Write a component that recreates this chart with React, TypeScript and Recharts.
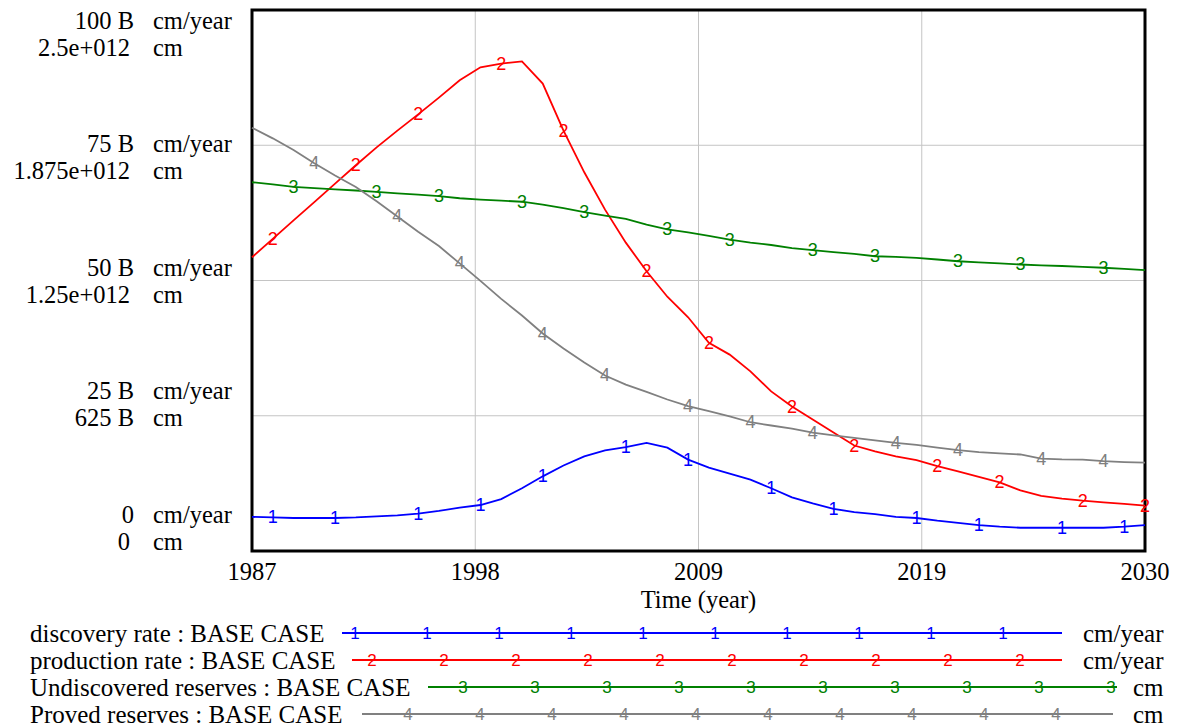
import { LineChart, Line, XAxis, YAxis, CartesianGrid, ReferenceArea, Label } from "recharts"

// time axis (years)
const years = [
  1987, 1988, 1989, 1990, 1991, 1992, 1993, 1994, 1995, 1996,
  1997, 1998, 1999, 2000, 2001, 2002, 2003, 2004, 2005, 2006,
  2007, 2008, 2009, 2010, 2011, 2012, 2013, 2014, 2015, 2016,
  2017, 2018, 2019, 2020, 2021, 2022, 2023, 2024, 2025, 2026,
  2027, 2028, 2029, 2030,
]

// rates in billions of cm/year
const discoveryRate = [
  6.3, 6.2, 6.1, 6.1, 6.1, 6.2, 6.4, 6.6, 6.9, 7.4,
  8.0, 8.5, 9.6, 11.6, 13.8, 15.8, 17.5, 18.6, 19.2, 20.0,
  19.1, 16.9, 15.4, 14.3, 13.2, 11.6, 9.9, 8.8, 7.8, 7.2,
  6.8, 6.3, 6.1, 5.6, 5.2, 4.8, 4.5, 4.3, 4.3, 4.3,
  4.3, 4.3, 4.5, 4.8,
]
const productionRate = [
  54.3, 57.7, 61.1, 64.5, 67.9, 71.3, 74.6, 77.7, 80.7, 83.8,
  87.0, 89.4, 90.1, 90.5, 86.4, 77.7, 70.0, 63.1, 57.0, 51.7,
  47.0, 43.2, 38.5, 36.3, 33.2, 29.5, 26.7, 24.3, 21.9, 19.5,
  18.4, 17.5, 16.8, 15.7, 14.7, 13.7, 12.7, 11.2, 10.2, 9.7,
  9.3, 9.0, 8.7, 8.4,
]

// stocks in billions of cm
const undiscoveredReserves = [
  1704, 1694, 1683, 1677, 1671, 1666, 1660, 1653, 1647, 1640,
  1630, 1624, 1619, 1614, 1601, 1584, 1566, 1550, 1535, 1508,
  1486, 1472, 1456, 1439, 1425, 1414, 1400, 1390, 1381, 1373,
  1362, 1359, 1355, 1347, 1339, 1334, 1329, 1324, 1320, 1317,
  1313, 1309, 1304, 1298,
]
const provedReserves = [
  1956, 1907, 1853, 1792, 1735, 1682, 1616, 1546, 1475, 1409,
  1329, 1248, 1165, 1088, 1005, 936, 871, 811, 769, 735,
  700, 669, 646, 622, 595, 580, 566, 547, 534, 523,
  511, 500, 490, 478, 466, 457, 451, 446, 427, 423,
  422, 415, 411, 408,
]

// years where the series number is drawn on the line
const discoveryMarks = [1988, 1991, 1995, 1998, 2001, 2005, 2008, 2012, 2015, 2019, 2022, 2026, 2029]
const productionMarks = [1988, 1992, 1995, 1999, 2002, 2006, 2009, 2013, 2016, 2020, 2023, 2027, 2030]
const undiscoveredMarks = [1989, 1993, 1996, 2000, 2003, 2007, 2010, 2014, 2017, 2021, 2024, 2028]
const provedMarks = [1990, 1994, 1997, 2001, 2004, 2008, 2011, 2014, 2018, 2021, 2025, 2028]

const xTicks = [1987, 1997.75, 2008.5, 2019.25, 2030]
const rateTicks = [0, 25, 50, 75, 100]
const rateTickLabels = ["0", "25 B", "50 B", "75 B", "100 B"]
const stockTickLabels = ["0", "625 B", "1.25e+012", "1.875e+012", "2.5e+012"]

const series = [
  { key: "discovery", name: "discovery rate : BASE CASE", unit: "cm/year", axis: "rate", color: "#0000ff", mark: "1", marks: discoveryMarks },
  { key: "production", name: "production rate : BASE CASE", unit: "cm/year", axis: "rate", color: "#ff0000", mark: "2", marks: productionMarks },
  { key: "undiscovered", name: "Undiscovered reserves : BASE CASE", unit: "cm", axis: "stock", color: "#008000", mark: "3", marks: undiscoveredMarks },
  { key: "proved", name: "Proved reserves : BASE CASE", unit: "cm", axis: "stock", color: "#808080", mark: "4", marks: provedMarks },
]

const data = years.map((year, i) => ({
  year,
  discovery: discoveryRate[i],
  production: productionRate[i],
  undiscovered: undiscoveredReserves[i],
  proved: provedReserves[i],
}))

const serif = "'Liberation Serif', 'Times New Roman', serif"
const sans = "'Liberation Sans', Arial, sans-serif"

function markerDot(digit: string, color: string, marks: number[]) {
  return (props: any) => {
    const { cx, cy, payload, index } = props
    if (!marks.includes(payload.year)) return <g key={`d-${digit}-${index}`} />
    return (
      <text
        key={`d-${digit}-${index}`}
        x={cx}
        y={cy}
        textAnchor="middle"
        dominantBaseline="central"
        fill={color}
        fontFamily={sans}
        fontSize={18}
      >
        {digit}
      </text>
    )
  }
}

function YTick(props: any) {
  const { y, payload } = props
  const i = rateTicks.indexOf(payload.value)
  const f = (rateTicks.length - 1 - i) / (rateTicks.length - 1)
  const y1 = y + 10 - 47 * f
  const common = { fontFamily: serif, fontSize: 24.5, fill: "#000", dominantBaseline: "central" as const }
  return (
    <g>
      <text x={134} y={y1} textAnchor="end" {...common}>{rateTickLabels[i]}</text>
      <text x={153} y={y1} {...common}>cm/year</text>
      <text x={i === 1 ? 134 : 130} y={y1 + 27} textAnchor="end" {...common}>{stockTickLabels[i]}</text>
      <text x={153} y={y1 + 27} {...common}>cm</text>
    </g>
  )
}

function XTick(props: any) {
  const { x, y, payload } = props
  return (
    <text x={x} y={y + 12} textAnchor="middle" dominantBaseline="central" fontFamily={serif} fontSize={24.5} fill="#000">
      {Math.round(payload.value)}
    </text>
  )
}

// legend rows, laid out like the original key
const legendLayout = [
  { lineStart: 342, lineEnd: 1062, firstMark: 355, unitX: 1083 },
  { lineStart: 352, lineEnd: 1062, firstMark: 372, unitX: 1083 },
  { lineStart: 428, lineEnd: 1117, firstMark: 463, unitX: 1133 },
  { lineStart: 362, lineEnd: 1113, firstMark: 408, unitX: 1133 },
]

function ChartLegend() {
  return (
    <svg width={1178} height={111} style={{ position: "absolute", left: 0, top: 615 }}>
      {series.map((s, r) => {
        const l = legendLayout[r]
        const cy = 18 + r * 27
        const marks = Array.from({ length: 10 }, (_, k) => l.firstMark + k * 72)
        return (
          <g key={s.key}>
            <text x={30} y={cy} dominantBaseline="central" fontFamily={serif} fontSize={25} fill="#000">{s.name}</text>
            <line x1={l.lineStart} x2={l.lineEnd} y1={cy} y2={cy} stroke={s.color} strokeWidth={1.8} />
            {marks.map((mx) => (
              <text key={mx} x={mx} y={cy} textAnchor="middle" dominantBaseline="central" fontFamily={sans} fontSize={17} fill={s.color}>
                {s.mark}
              </text>
            ))}
            <text x={l.unitX} y={cy} dominantBaseline="central" fontFamily={serif} fontSize={25} fill="#000">{s.unit}</text>
          </g>
        )
      })}
    </svg>
  )
}

export default function App() {
  return (
    <div style={{ position: "absolute", left: 0, top: 0, width: 1178, height: 726, background: "#fff" }}>
      <LineChart width={1178} height={726} data={data} margin={{ top: 10, right: 33, left: 0, bottom: 0 }}>
        <CartesianGrid yAxisId="rate" stroke="#c4c4c4" strokeWidth={1} />
        <XAxis
          dataKey="year"
          type="number"
          domain={[1987, 2030]}
          ticks={xTicks}
          interval={0}
          height={175}
          axisLine={false}
          tickLine={false}
          tick={<XTick />}
        >
          <Label
            content={(p: any) => (
              <text
                x={p.viewBox.x + p.viewBox.width / 2}
                y={p.viewBox.y + 48}
                textAnchor="middle"
                dominantBaseline="central"
                fontFamily={serif}
                fontSize={24.5}
                fill="#000"
              >
                Time (year)
              </text>
            )}
          />
        </XAxis>
        <YAxis
          yAxisId="rate"
          domain={[0, 100]}
          ticks={rateTicks}
          interval={0}
          width={252}
          axisLine={false}
          tickLine={false}
          tick={<YTick />}
        />
        <YAxis yAxisId="stock" domain={[0, 2500]} hide />
        {series.map((s) => (
          <Line
            key={s.key}
            yAxisId={s.axis}
            dataKey={s.key}
            type="linear"
            stroke={s.color}
            strokeWidth={1.8}
            dot={markerDot(s.mark, s.color, s.marks)}
            activeDot={false}
            isAnimationActive={false}
          />
        ))}
        <ReferenceArea
          yAxisId="rate"
          x1={1987}
          x2={2030}
          y1={0}
          y2={100}
          fill="none"
          fillOpacity={0}
          stroke="#000"
          strokeWidth={3}
        />
      </LineChart>
      <ChartLegend />
    </div>
  )
}
